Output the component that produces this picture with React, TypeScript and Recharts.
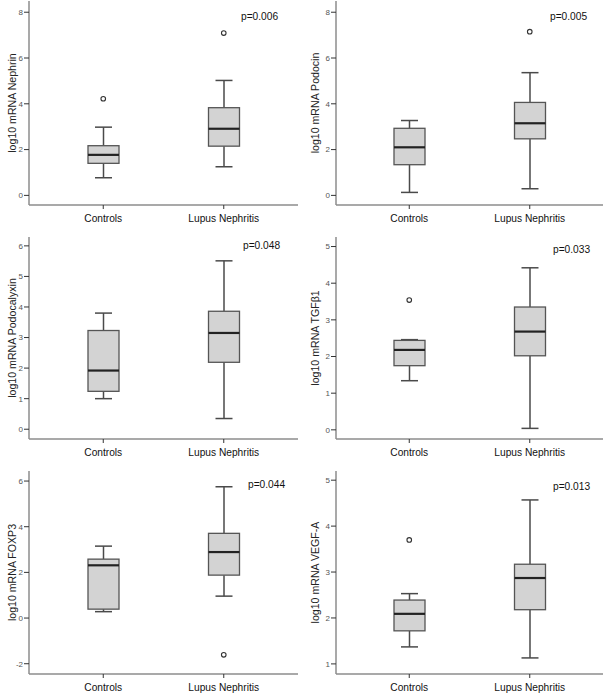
import { ComposedChart, Bar, Scatter, XAxis, YAxis } from "recharts";

const groups = ["Controls", "Lupus Nephritis"];

// [lower whisker, Q1, median, Q3, upper whisker] for each group
const nephrinControls = [0.77, 1.4, 1.77, 2.17, 2.98];
const nephrinLupus = [1.25, 2.15, 2.91, 3.83, 5.02];
const nephrinOutliers = [4.22, 7.09];

const podocinControls = [0.13, 1.34, 2.1, 2.93, 3.27];
const podocinLupus = [0.29, 2.47, 3.15, 4.06, 5.36];
const podocinOutliers = [null, 7.15];

const podocalyxinControls = [1.0, 1.24, 1.92, 3.23, 3.8];
const podocalyxinLupus = [0.35, 2.19, 3.15, 3.86, 5.51];
const podocalyxinOutliers = [null, null];

const tgfControls = [1.34, 1.75, 2.18, 2.44, 2.46];
const tgfLupus = [0.04, 2.02, 2.68, 3.35, 4.42];
const tgfOutliers = [3.54, null];

const foxp3Controls = [0.28, 0.39, 2.31, 2.58, 3.15];
const foxp3Lupus = [0.96, 1.88, 2.89, 3.71, 5.75];
const foxp3Outliers = [null, -1.61];

const vegfControls = [1.37, 1.72, 2.09, 2.39, 2.53];
const vegfLupus = [1.13, 2.18, 2.87, 3.17, 4.57];
const vegfOutliers = [3.7, null];

const ticks8 = [0, 2, 4, 6, 8];
const ticks6 = [0, 1, 2, 3, 4, 5, 6];
const ticks5 = [0, 1, 2, 3, 4, 5];
const ticksFoxp3 = [-2, 0, 2, 4, 6];
const ticksVegf = [1, 2, 3, 4, 5];

const titles = [
  "log10 mRNA Nephrin",
  "log10 mRNA Podocin",
  "log10 mRNA Podocalyxin",
  "log10 mRNA TGF\u03b21",
  "log10 mRNA FOXP3",
  "log10 mRNA VEGF-A",
];
const pValues = ["p=0.006", "p=0.005", "p=0.048", "p=0.033", "p=0.044", "p=0.013"];

const FONT = "Arial, 'Liberation Sans', sans-serif";

const rows = (controls: number[], lupus: number[], outliers: (number | null)[]) =>
  [controls, lupus].map((s, i) => ({
    group: groups[i],
    range: [s[0], s[4]],
    stats: s,
    outlier: outliers[i],
  }));

const panels = [
  { data: rows(nephrinControls, nephrinLupus, nephrinOutliers), ticks: ticks8, domain: [-0.42, 8.49] },
  { data: rows(podocinControls, podocinLupus, podocinOutliers), ticks: ticks8, domain: [-0.42, 8.49] },
  { data: rows(podocalyxinControls, podocalyxinLupus, podocalyxinOutliers), ticks: ticks6, domain: [-0.32, 6.29] },
  { data: rows(tgfControls, tgfLupus, tgfOutliers), ticks: ticks5, domain: [-0.25, 5.26] },
  { data: rows(foxp3Controls, foxp3Lupus, foxp3Outliers), ticks: ticksFoxp3, domain: [-2.45, 6.44] },
  { data: rows(vegfControls, vegfLupus, vegfOutliers), ticks: ticksVegf, domain: [0.78, 5.2] },
];

// layout of the six cells on the page
const cells = [
  { left: 0, top: 1, width: 300, plotH: 204, yW: 29, right: 2, pad: 14, labelX: 12, pX: 241, pY: 17 },
  { left: 300, top: 1, width: 307, plotH: 204, yW: 36, right: 4, pad: 13, labelX: 15, pX: 550, pY: 17 },
  { left: 0, top: 237, width: 300, plotH: 202, yW: 29, right: 2, pad: 14, labelX: 12, pX: 243, pY: 246 },
  { left: 300, top: 237, width: 307, plotH: 202, yW: 36, right: 4, pad: 13, labelX: 15, pX: 553, pY: 250 },
  { left: 0, top: 471, width: 300, plotH: 203, yW: 29, right: 2, pad: 14, labelX: 12, pX: 248, pY: 485 },
  { left: 300, top: 471, width: 307, plotH: 203, yW: 36, right: 4, pad: 13, labelX: 15, pX: 553, pY: 487 },
];

function BoxShape(props: any) {
  let { x, y, width, height } = props;
  const [lo, q1, med, q3, hi] = props.payload.stats;
  if (height < 0) {
    y = y + height;
    height = -height;
  }
  const py = (v: number) => y + (height * (hi - v)) / (hi - lo);
  const cx = x + width / 2;
  const cap = 8.5;
  return (
    <g>
      <line x1={cx} x2={cx} y1={py(hi)} y2={py(q3)} stroke="#4a4a4a" strokeWidth={1.5} />
      <line x1={cx} x2={cx} y1={py(q1)} y2={py(lo)} stroke="#4a4a4a" strokeWidth={1.5} />
      <line x1={cx - cap} x2={cx + cap} y1={py(hi)} y2={py(hi)} stroke="#4a4a4a" strokeWidth={1.5} />
      <line x1={cx - cap} x2={cx + cap} y1={py(lo)} y2={py(lo)} stroke="#4a4a4a" strokeWidth={1.5} />
      <rect x={x} y={py(q3)} width={width} height={py(q1) - py(q3)} fill="#d3d3d3" stroke="#555" strokeWidth={1.3} />
      <line x1={x} x2={x + width} y1={py(med)} y2={py(med)} stroke="#222" strokeWidth={2.2} />
    </g>
  );
}

function OutlierShape(props: any) {
  if (props.payload == null || props.payload.outlier == null) return null;
  return <circle cx={props.cx} cy={props.cy} r={2.3} fill="#fff" stroke="#333" strokeWidth={1.1} />;
}

function Panel({ idx }: { idx: number }) {
  const p = panels[idx];
  const c = cells[idx];
  const title = titles[idx];
  return (
    <div style={{ position: "absolute", left: c.left, top: c.top }}>
      <ComposedChart
        width={c.width}
        height={c.plotH + 22}
        data={p.data}
        margin={{ top: 0, right: c.right, bottom: 0, left: 0 }}
      >
        <XAxis
          dataKey="group"
          type="category"
          padding={{ left: c.pad, right: c.pad }}
          height={22}
          interval={0}
          tickSize={4}
          tickMargin={6}
          tick={{ fontSize: 10.2, fill: "#111", fontFamily: FONT }}
          axisLine={{ stroke: "#8c8c8c", strokeWidth: 1.5 }}
          tickLine={{ stroke: "#333" }}
        />
        <YAxis
          type="number"
          domain={p.domain}
          ticks={p.ticks}
          allowDataOverflow
          interval={0}
          width={c.yW}
          tickSize={5}
          tickMargin={1}
          tick={{ fontSize: 8, fill: "#555", fontFamily: FONT }}
          axisLine={{ stroke: "#8c8c8c", strokeWidth: 1.5 }}
          tickLine={{ stroke: "#333" }}
          label={{
            content: (lp: any) => {
              const vb = lp.viewBox || { y: 0, height: c.plotH };
              const ly = vb.y + vb.height / 2;
              return (
                <text
                  x={c.labelX}
                  y={ly}
                  transform={`rotate(-90 ${c.labelX} ${ly})`}
                  textAnchor="middle"
                  dominantBaseline="central"
                  fontSize={10.6}
                  fill="#222"
                  fontFamily={FONT}
                >
                  {title}
                </text>
              );
            },
          }}
        />
        <Bar dataKey="range" barSize={31} shape={BoxShape} isAnimationActive={false} />
        <Scatter dataKey="outlier" shape={OutlierShape} isAnimationActive={false} />
      </ComposedChart>
      <div
        style={{
          position: "absolute",
          left: c.pX - c.left,
          top: c.pY - c.top - 6,
          fontFamily: FONT,
          fontSize: 10.2,
          lineHeight: "12px",
          color: "#111",
          whiteSpace: "nowrap",
        }}
      >
        {pValues[idx]}
      </div>
    </div>
  );
}

export default function App() {
  return (
    <div style={{ position: "absolute", left: 0, top: 0, width: 607, height: 696, background: "#fff" }}>
      {panels.map((_, i) => (
        <Panel key={i} idx={i} />
      ))}
    </div>
  );
}
